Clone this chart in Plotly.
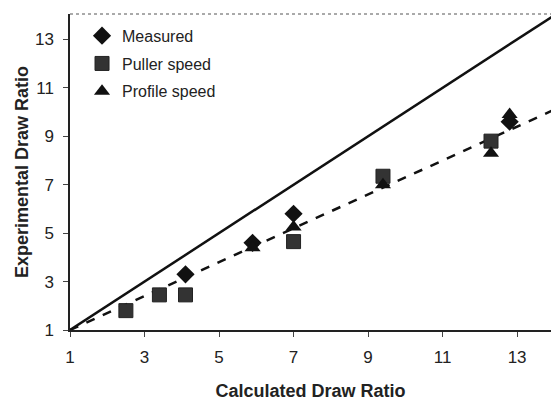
import plotly.graph_objects as go

# Data
measured_x = [4.1, 5.9, 7.0, 12.8]
measured_y = [3.3, 4.6, 5.8, 9.6]
puller_x = [2.5, 3.4, 4.1, 7.0, 9.4, 12.3]
puller_y = [1.8, 2.45, 2.45, 4.65, 7.35, 8.8]
profile_x = [5.9, 7.0, 9.4, 12.3, 12.8]
profile_y = [4.4, 5.25, 7.0, 8.3, 9.9]
ideal_x = [1, 14]
ideal_y = [1, 14]
fit_x = [1, 14]
fit_y = [1, 10.1]
tick_vals = [1, 3, 5, 7, 9, 11, 13]

FONT = "Liberation Sans, Arial, sans-serif"

fig = go.Figure()
fig.add_trace(go.Scatter(x=ideal_x, y=ideal_y, mode="lines",
                         line=dict(color="#111", width=2.5), showlegend=False, hoverinfo="skip"))
fig.add_trace(go.Scatter(x=fit_x, y=fit_y, mode="lines",
                         line=dict(color="#111", width=2.5, dash="dash"), showlegend=False, hoverinfo="skip"))
fig.add_trace(go.Scatter(x=measured_x, y=measured_y, mode="markers", name="Measured", legendgroup="a",
                         marker=dict(symbol="diamond", size=14, color="#111")))
fig.add_trace(go.Scatter(x=puller_x, y=puller_y, mode="markers", name="Puller speed", legendgroup="b",
                         marker=dict(symbol="square", size=14, color="#333",
                                     line=dict(color="#222", width=1))))
fig.add_trace(go.Scatter(x=profile_x, y=profile_y, mode="markers", name="Profile speed", legendgroup="c",
                         marker=dict(symbol="triangle-up", size=14, color="#111")))

axis_common = dict(
    showgrid=False, zeroline=False, showline=True, linecolor="#222", linewidth=1.5,
    ticks="outside", ticklen=5, tickcolor="#444", tickvals=tick_vals,
    tickfont=dict(family=FONT, size=17, color="#222"),
    ticklabelstandoff=6, mirror=False,
)
fig.update_xaxes(range=[1, 13.91], title=dict(text="<b>Calculated Draw Ratio</b>", standoff=18,
                 font=dict(family=FONT, size=18, color="#222")),
                 **axis_common)
fig.update_yaxes(range=[1, 14.05], title=dict(text="<b>Experimental Draw Ratio</b>", standoff=2,
                 font=dict(family=FONT, size=18, color="#222")),
                 **axis_common)

fig.add_shape(type="line", xref="paper", yref="paper", x0=0, x1=1, y0=1, y1=1,
              line=dict(color="#555", width=1, dash="dot"))

fig.update_layout(
    width=551, height=401,
    margin=dict(l=70, r=0, t=14, b=71),
    paper_bgcolor="white", plot_bgcolor="white",
    legend=dict(x=0.025, y=0.985, xanchor="left", yanchor="top", bgcolor="rgba(0,0,0,0)",
                font=dict(family=FONT, size=16, color="#222"),
                itemwidth=30, tracegroupgap=4),
)

fig.write_html("out.html")
